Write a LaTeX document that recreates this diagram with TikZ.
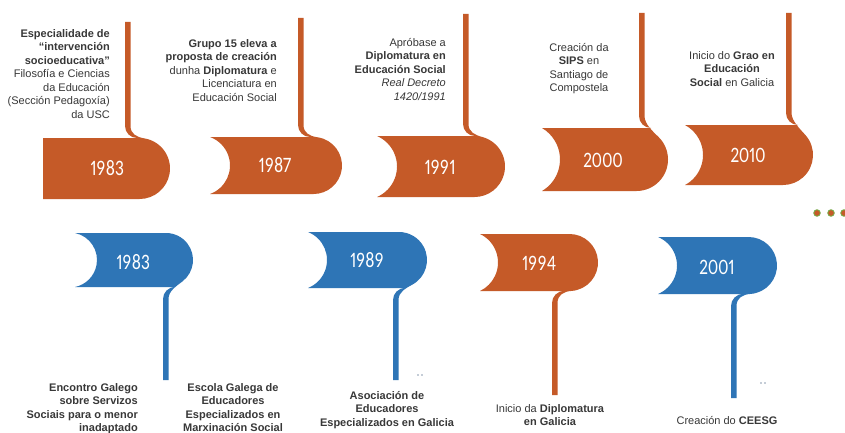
\documentclass[tikz,border=0pt]{standalone}
\usepackage{fontspec}
\setmainfont{Liberation Sans}
\newfontfamily\yearfont[FakeStretch=0.8, Numbers={Lining,Proportional}]{Carlito}
\definecolor{tlorange}{HTML}{C55A28}
\definecolor{tlblue}{HTML}{2E75B6}
\definecolor{dotgreen}{HTML}{70AD47}
\definecolor{marks}{HTML}{8A9BB0}
\def\tlw{5.5}
\def\tlr{12}
% #1 L, #2 indent, #3 mid y, #4 half height, #5 right x, #6 stem left x, #7 stem length, #8 colour, #9 yscale
\newcommand{\tlshape}[9]{%
\begin{scope}[shift={(0,#3)}, yscale=#9]
\pgfmathsetmacro\tlC{#5-#4}%
\pgfmathsetmacro\tlPx{#6+\tlw+14}%
\pgfmathsetmacro\tlct{min(1,max(0,(\tlPx-\tlC)/#4))}%
\pgfmathsetmacro\tlth{-acos(\tlct)}%
\pgfmathsetmacro\tlPX{\tlC+#4*cos(\tlth)}%
\pgfmathsetmacro\tlPY{#4*sin(\tlth)}%
\pgfmathsetmacro\tlQX{\tlPX+8*sin(\tlth)}%
\pgfmathsetmacro\tlQY{\tlPY-8*cos(\tlth)}%
\ifdim #2pt>0pt
\pgfmathsetmacro\tlRc{(#4*#4+#2*#2)/(2*#2)}%
\pgfmathsetmacro\tlal{atan(#4/(\tlRc-#2))}%
\def\tlleft{arc[start angle=\tlal, end angle=-\tlal, radius=\tlRc]}%
\else
\def\tlleft{}%
\fi
\fill[#8] (#1,-#4) -- ({#6+\tlr},-#4)
  .. controls ({#6+0.45*\tlr},-#4) and (#6,{-#4-0.45*\tlr}) .. (#6,{-#4-\tlr})
  -- (#6,{-#4-#7}) -- ({#6+\tlw},{-#4-#7}) -- ({#6+\tlw},{-#4-\tlr})
  .. controls ({#6+\tlw},{-#4-\tlr+8}) and (\tlQX,\tlQY) .. (\tlPX,\tlPY)
  arc[start angle=\tlth, end angle=90, radius=#4]
  -- (#1,#4) [insert path=\tlleft] -- cycle;
\end{scope}}
\begin{document}
\begin{tikzpicture}[x=1pt,y=-1pt,
  desc/.style={font=\fontsize{11}{13.5}\selectfont, text=black!78, inner sep=0pt},
  year/.style={font=\yearfont\fontsize{22}{22}\selectfont, text=white, inner sep=0pt}]
\fill[white] (0,0) rectangle (845,433);
\useasboundingbox (0,0) rectangle (845,433);
% top row
\tlshape{43}{0}{168.5}{30.5}{170}{125}{116}{tlorange}{1}
\tlshape{210}{20}{165.5}{28.5}{342}{298}{119}{tlorange}{1}
\tlshape{377}{20}{166.5}{30.5}{505}{463}{122}{tlorange}{1}
\tlshape{542}{18}{159.5}{31.5}{668}{639}{115}{tlorange}{1}
\tlshape{685}{18}{155}{30}{813}{786}{112}{tlorange}{1}
% bottom row
\tlshape{75}{22}{260}{27}{193}{163}{93}{tlblue}{-1}
\tlshape{308}{19}{260}{28}{427}{393}{92}{tlblue}{-1}
\tlshape{480}{18}{262.5}{28.5}{598}{552}{104}{tlorange}{-1}
\tlshape{658}{19}{265.5}{28.5}{777}{731}{104}{tlblue}{-1}
% years
\node[year] (y1) at (107,168) {1983};
\node[year] (y2) at (275,165) {1987};
\node[year] (y3) at (440,167) {1991};
\node[year] (y4) at (603,160) {2000};
\node[year] (y5) at (748,155) {2010};
\node[year] (b1) at (133,262) {1983};
\node[year] (b2) at (367,260) {1989};
\node[year] (b3) at (539,263) {1994};
\node[year] (b4) at (717,267) {2001};
% texts
\node[desc, anchor=north east, align=right] (t1) at (110,29)
 {\textbf{Especialidade de}\\\textbf{“intervención}\\\textbf{socioeducativa”}\\Filosofía e Ciencias\\da Educación\\(Sección Pedagoxía)\\da USC};
\node[desc, anchor=north east, align=right] (t2) at (277,39)
 {\textbf{Grupo 15 eleva a}\\\textbf{proposta de creación}\\dunha \textbf{Diplomatura} e\\Licenciatura en\\Educación Social};
\node[desc, anchor=north east, align=right] (t3) at (446,38)
 {Apróbase a\\\textbf{Diplomatura en}\\\textbf{Educación Social}\\\textit{Real Decreto}\\\textit{1420/1991}};
\node[desc, anchor=north, align=center] (t4) at (579,43)
 {Creación da\\\textbf{SIPS} en\\Santiago de\\Compostela};
\node[desc, anchor=north, align=center] (t5) at (732,51)
 {Inicio do \textbf{Grao en}\\\textbf{Educación}\\\textbf{Social} en Galicia};
\node[desc, anchor=north east, align=right, font=\fontsize{11}{13.5}\selectfont\bfseries] (u1) at (138,383)
 {Encontro Galego\\sobre Servizos\\Sociais para o menor\\inadaptado};
\node[desc, anchor=north, align=center, font=\fontsize{11}{13.5}\selectfont\bfseries] (u2) at (233,383)
 {Escola Galega de\\Educadores\\Especializados en\\Marxinación Social};
\node[desc, anchor=north, align=center, font=\fontsize{11}{13.5}\selectfont\bfseries] (u3) at (387,391)
 {Asociación de\\Educadores\\Especializados en Galicia};
\node[desc, anchor=north, align=center] (u4) at (550,404)
 {Inicio da \textbf{Diplomatura}\\\textbf{en Galicia}};
\node[desc, anchor=north, align=center] (u5) at (727,416)
 {Creación do \textbf{CEESG}};
% continuation dots
\foreach \dx in {817,831,844}
  \draw[dotgreen, fill=tlorange, line width=0.8pt] (\dx,213) circle (3.3);
% small marks
\fill[marks] (418,375) circle (0.9) (422,375) circle (0.9);
\fill[marks] (761,383) circle (0.9) (765,383) circle (0.9);
\end{tikzpicture}
\end{document}
